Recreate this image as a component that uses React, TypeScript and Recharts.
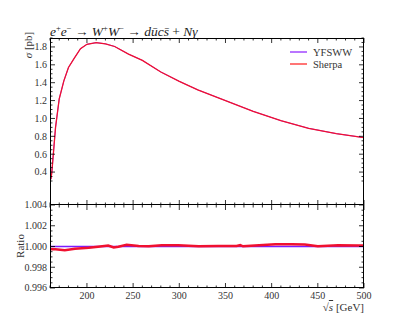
import React from "react";
import { LineChart, Line, XAxis, YAxis, Legend } from "recharts";

// ---- data ----
const sqrtS = [161, 162, 164, 166, 170, 175, 180, 186, 193, 200, 210, 220, 230, 245, 260, 280, 300, 320, 350, 380, 410, 440, 470, 500];
const sherpaSigma = [0.32, 0.4, 0.65, 0.9, 1.22, 1.42, 1.57, 1.67, 1.78, 1.83, 1.848, 1.835, 1.805, 1.72, 1.65, 1.52, 1.415, 1.32, 1.2, 1.08, 0.975, 0.89, 0.83, 0.785];
const yfswwSigma = [0.32, 0.4, 0.65, 0.9, 1.22, 1.42, 1.57, 1.67, 1.78, 1.83, 1.848, 1.835, 1.805, 1.72, 1.65, 1.52, 1.415, 1.32, 1.2, 1.08, 0.975, 0.89, 0.83, 0.785];

const ratioSqrtS = [161, 162, 166, 176, 187, 202, 212, 223, 229, 234, 243, 256, 267, 281, 299, 321, 342, 362, 366, 369, 382, 404, 422, 436, 450, 472, 494, 500];
const sherpaRatio = [0.9997, 0.99975, 0.99974, 0.99965, 0.99978, 0.99987, 0.99997, 1.0001, 0.9999, 0.99997, 1.00016, 1.00006, 1.00003, 1.00013, 1.00013, 1.00003, 1.00006, 1.00006, 1.00013, 1.00002, 1.0001, 1.00022, 1.00022, 1.00019, 1.00003, 1.00013, 1.0001, 1.0001];
const yfswwRatio = [1, 1, 1, 1, 1, 1, 1, 1, 1, 1, 1, 1, 1, 1, 1, 1, 1, 1, 1, 1, 1, 1, 1, 1, 1, 1, 1, 1];

const seriesNames = ["YFSWW", "Sherpa"];
const xDomain = [160, 500];
const topYDomain = [0.3, 1.9];
const ratioYDomain = [0.996, 1.004];

const buildTicks = (lo: number, hi: number, step: number) => {
  const out: number[] = [];
  const n = Math.round((hi - lo) / step);
  for (let i = 0; i <= n; i++) out.push(Number((lo + i * step).toFixed(6)));
  return out;
};
const xTicks = buildTicks(160, 500, 10);
const topYTicks = buildTicks(0.3, 1.9, 0.05);
const ratioYTicks = buildTicks(0.996, 1.004, 0.0005);

const topData = sqrtS.map((s, i) => ({ s, yfsww: yfswwSigma[i], sherpa: sherpaSigma[i] }));
const ratioData = ratioSqrtS.map((s, i) => ({ s, yfsww: yfswwRatio[i], sherpa: sherpaRatio[i] }));

// ---- layout ----
const W = 405;
const PL = 50;
const PR = 364;
const TOP_PT = 38;
const TOP_PB = 205;
const R_OFF = 10;
const R_TOP = 204 - R_OFF; // page y of ratio chart origin
const R_PT = 1 + R_OFF;
const R_PB = 84 + R_OFF;
const R_H = 130;
const FONT = "'Liberation Serif', 'DejaVu Serif', serif";
const RED = "#f01030";
const VIOLET = "#7b1cff";

const isMult = (v: number, base: number, step: number) => {
  const q = (v - base) / step;
  return Math.abs(q - Math.round(q)) < 1e-6;
};

const XTickTop = (props: any) => {
  const { x, payload } = props;
  const major = isMult(payload.value, 0, 50);
  const len = major ? 5 : 2.5;
  return (
    <g>
      <line x1={x} x2={x} y1={TOP_PT} y2={TOP_PT + len} stroke="#000" strokeWidth={0.8} />
      <line x1={x} x2={x} y1={TOP_PB} y2={TOP_PB - len} stroke="#000" strokeWidth={0.8} />
    </g>
  );
};

const XTickRatio = (props: any) => {
  const { x, payload } = props;
  const major = isMult(payload.value, 0, 50);
  const len = major ? 5 : 2.5;
  return (
    <g>
      <line x1={x} x2={x} y1={R_PT} y2={R_PT + len} stroke="#000" strokeWidth={0.8} />
      <line x1={x} x2={x} y1={R_PB} y2={R_PB - len} stroke="#000" strokeWidth={0.8} />
      {major && payload.value > 160 ? (
        <text x={x} y={R_PB + 11} textAnchor="middle" fontFamily={FONT} fontSize={10} fill="#333">
          {payload.value}
        </text>
      ) : null}
    </g>
  );
};

const YTickTop = (props: any) => {
  const { y, payload } = props;
  const major = isMult(payload.value, 0, 0.2);
  const len = major ? 5 : 2.5;
  return (
    <g>
      <line x1={PL} x2={PL + len} y1={y} y2={y} stroke="#000" strokeWidth={0.8} />
      <line x1={PR} x2={PR - len} y1={y} y2={y} stroke="#000" strokeWidth={0.8} />
      {major ? (
        <text x={PL - 3} y={y + 3.4} textAnchor="end" fontFamily={FONT} fontSize={10} fill="#333">
          {payload.value.toFixed(1)}
        </text>
      ) : null}
    </g>
  );
};

const YTickRatio = (props: any) => {
  const { y, payload } = props;
  const major = isMult(payload.value, 0.996, 0.002);
  const len = major ? 5 : 2.5;
  return (
    <g>
      <line x1={PL} x2={PL + len} y1={y} y2={y} stroke="#000" strokeWidth={0.8} />
      <line x1={PR} x2={PR - len} y1={y} y2={y} stroke="#000" strokeWidth={0.8} />
      {major ? (
        <text x={PL - 3} y={y + 3.4} textAnchor="end" fontFamily={FONT} fontSize={10} fill="#333">
          {payload.value.toFixed(3)}
        </text>
      ) : null}
    </g>
  );
};

const legendColors = ["#b266ff", "#ff6666"];

const LegendContent = () => (
  <div style={{ fontFamily: FONT, fontSize: 10.5, color: "#333" }}>
    {seriesNames.map((n, i) => (
      <div key={n} style={{ display: "flex", alignItems: "center", height: 12 }}>
        <svg width={17} height={4} style={{ marginRight: 6 }}>
          <line x1={0} x2={17} y1={2} y2={2} stroke={legendColors[i]} strokeWidth={1.8} />
        </svg>
        <span>{n}</span>
      </div>
    ))}
  </div>
);

const sup = { fontSize: 8.5, verticalAlign: "5px" } as const;

export default function App() {
  return (
    <div style={{ position: "absolute", left: 0, top: 0, width: W, height: 324, background: "#fff", fontFamily: FONT }}>
      <div style={{ position: "absolute", left: 0, top: 0 }}>
        <LineChart width={W} height={206} data={topData} margin={{ top: TOP_PT, right: W - PR, bottom: 0, left: 0 }}>
          <XAxis
            type="number"
            dataKey="s"
            domain={xDomain}
            ticks={xTicks}
            interval={0}
            height={1}
            axisLine={false}
            tickLine={false}
            tick={<XTickTop />}
            allowDataOverflow
          />
          <YAxis
            type="number"
            domain={topYDomain}
            ticks={topYTicks}
            interval={0}
            width={PL}
            axisLine={false}
            tickLine={false}
            tick={<YTickTop />}
            allowDataOverflow
          />
          <Legend
            content={<LegendContent />}
            wrapperStyle={{ position: "absolute", left: 290, top: 46, width: 80 }}
          />
          <Line dataKey="yfsww" name="YFSWW" stroke={VIOLET} strokeWidth={0.8} dot={false} isAnimationActive={false} />
          <Line dataKey="sherpa" name="Sherpa" stroke={RED} strokeWidth={1.3} dot={false} isAnimationActive={false} />
        </LineChart>
      </div>
      <div style={{ position: "absolute", left: 0, top: R_TOP }}>
        <LineChart width={W} height={R_H} data={ratioData} margin={{ top: R_PT, right: W - PR, bottom: 0, left: 0 }}>
          <XAxis
            type="number"
            dataKey="s"
            domain={xDomain}
            ticks={xTicks}
            interval={0}
            height={R_H - R_PB}
            axisLine={false}
            tickLine={false}
            tick={<XTickRatio />}
            allowDataOverflow
          />
          <YAxis
            type="number"
            domain={ratioYDomain}
            ticks={ratioYTicks}
            interval={0}
            width={PL}
            axisLine={false}
            tickLine={false}
            tick={<YTickRatio />}
            allowDataOverflow
          />
          <Line dataKey="yfsww" name="YFSWW" stroke={VIOLET} strokeWidth={1.5} dot={false} isAnimationActive={false} />
          <Line dataKey="sherpa" name="Sherpa" stroke={RED} strokeWidth={2.5} dot={false} isAnimationActive={false} />
        </LineChart>
      </div>
      {/* frames */}
      <div style={{ position: "absolute", left: PL, top: TOP_PT, width: PR - PL, height: TOP_PB - TOP_PT, border: "1px solid #000", boxSizing: "border-box", pointerEvents: "none" }} />
      <div style={{ position: "absolute", left: PL, top: 204, width: PR - PL, height: 84, border: "1px solid #000", boxSizing: "border-box", pointerEvents: "none" }} />
      {/* title */}
      <div style={{ position: "absolute", left: PL, top: 22, fontSize: 13.5, lineHeight: "13px", whiteSpace: "nowrap", color: "#222" }}>
        <i>e</i><span style={sup}>+</span><i>e</i><span style={sup}>−</span> → <i>W</i><span style={sup}>+</span><i>W</i><span style={sup}>−</span> → <i>d</i><i>ū</i><i>c</i><i>s̄</i> + <i>N</i><i>γ</i>
      </div>
      {/* y labels */}
      <div style={{ position: "absolute", left: 28, top: 45, transform: "translate(-50%, -50%) rotate(-90deg)", fontSize: 11, whiteSpace: "nowrap", color: "#333" }}>
        <i>σ</i> [pb]
      </div>
      <div style={{ position: "absolute", left: 20, top: 246, transform: "translate(-50%, -50%) rotate(-90deg)", fontSize: 11, whiteSpace: "nowrap", color: "#333" }}>
        Ratio
      </div>
      {/* x label */}
      <div style={{ position: "absolute", right: W - PR, top: 301, fontSize: 11, whiteSpace: "nowrap", color: "#333" }}>
        √<span style={{ textDecoration: "overline" }}><i>s</i></span> [GeV]
      </div>
    </div>
  );
}
